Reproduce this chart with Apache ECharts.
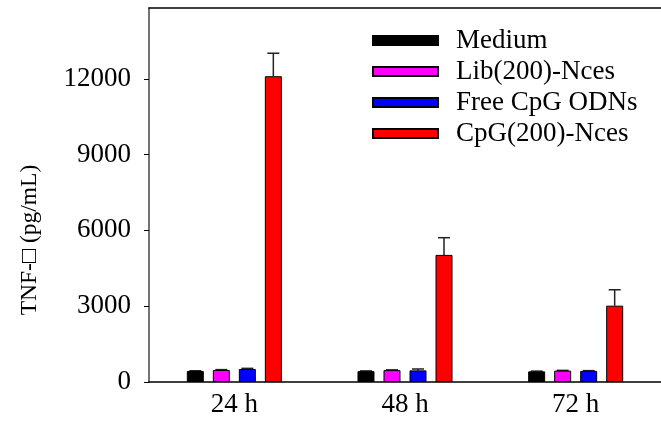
<!DOCTYPE html>
<html>
<head>
<meta charset="utf-8">
<script src="https://cdn.jsdelivr.net/npm/echarts@6/dist/echarts.min.js"></script>
<style>html,body{margin:0;padding:0;background:#fff;}#c{width:661px;height:437px;}</style>
</head>
<body>
<div id="c"></div>
<script>
var categories = ['24 h', '48 h', '72 h'];
var seriesNames = ['Medium', 'Lib(200)-Nces', 'Free CpG ODNs', 'CpG(200)-Nces'];
var medium = [436, 430, 420];
var lib = [475, 470, 450];
var freeCpG = [515, 460, 440];
var cpgNces = [12100, 5030, 3020];
var mediumErr = [445, 440, 430];
var libErr = [490, 480, 460];
var freeCpGErr = [540, 515, 450];
var cpgNcesErr = [13010, 5710, 3650];
var yTicks = [0, 3000, 6000, 9000, 12000];
var yLabel = 'TNF-\u25A1 (pg/mL)';

var values = [medium, lib, freeCpG, cpgNces];
var errs = [mediumErr, libErr, freeCpGErr, cpgNcesErr];
var colors = ['#000000', '#ff00ff', '#0000ff', '#ff0000'];
var FONT = 'Liberation Serif';
var BW = 17, PITCH = 26;

var series = [];
values.forEach(function (v, i) {
  series.push({
    name: seriesNames[i], type: 'bar', data: v, barWidth: BW, barGap: '53%',
    itemStyle: { color: colors[i], borderColor: '#000', borderWidth: 1 }
  });
});
values.forEach(function (v, i) {
  var data = v.map(function (val, k) { return [k, val, errs[i][k]]; });
  series.push({
    type: 'custom', silent: true, z: 1,
    data: data,
    renderItem: function (params, api) {
      var k = api.value(0);
      var base = api.coord([k, api.value(1)]);
      var top = api.coord([k, api.value(2)]);
      var x = base[0] + (i - 1.5) * PITCH;
      var cap = 6;
      var st = { stroke: '#222', lineWidth: 1.5 };
      return { type: 'group', children: [
        { type: 'line', shape: { x1: x, y1: base[1], x2: x, y2: top[1] }, style: st },
        { type: 'line', shape: { x1: x - cap, y1: top[1], x2: x + cap, y2: top[1] }, style: st }
      ]};
    }
  });
});

var chart = echarts.init(document.getElementById('c'));
chart.setOption({
  animation: false,
  backgroundColor: '#fff',
  grid: { left: 149, top: 8, width: 521, height: 374, containLabel: false },
  legend: {
    data: seriesNames, orient: 'vertical', left: 372, top: 27, padding: 0,
    icon: 'rect', itemWidth: 65, itemHeight: 9, itemGap: 4,
    textStyle: { fontFamily: FONT, fontSize: 27, color: '#000', padding: [0, 0, 0, 13] }
  },
  xAxis: [{
    type: 'category', data: categories, position: 'bottom',
    axisLine: { lineStyle: { color: '#000', width: 1.5 } },
    axisTick: { alignWithLabel: true, length: 5, lineStyle: { color: '#000' } },
    axisLabel: { fontFamily: FONT, fontSize: 27, color: '#000', margin: 9 }
  }, {
    type: 'category', data: categories, position: 'top',
    axisLine: { lineStyle: { color: '#000', width: 1.5 } },
    axisTick: { show: false }, axisLabel: { show: false }
  }],
  yAxis: {
    type: 'value', min: 0, max: 14800, interval: 3000,
    axisLine: { show: true, lineStyle: { color: '#444', width: 1.5 } },
    axisTick: { show: true, length: 5, customValues: yTicks, lineStyle: { color: '#000' } },
    axisLabel: { fontFamily: FONT, fontSize: 27, color: '#000', margin: 18, customValues: yTicks,
      formatter: function (v) { return String(v); } },
    splitLine: { show: false }
  },
  graphic: [{
    type: 'text', x: 30, y: 240, rotation: Math.PI / 2,
    style: { text: yLabel, fontFamily: FONT, fontSize: 23.5, fill: '#000', align: 'center', verticalAlign: 'middle' }
  }],
  series: series
});
</script>
</body>
</html>
